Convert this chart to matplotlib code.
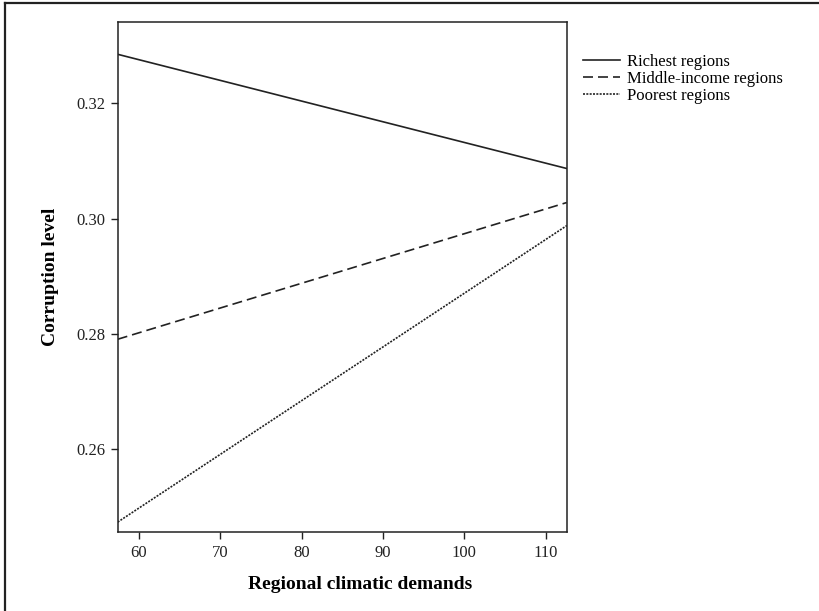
import matplotlib
matplotlib.use("Agg")
import matplotlib.pyplot as plt
from matplotlib.lines import Line2D

plt.rcParams["font.family"] = ["Liberation Serif", "DejaVu Serif"]

# line end points (x at the axis limits)
climate = [57.4, 112.6]
richest = [0.3285, 0.3087]
middle_income = [0.2791, 0.3028]
poorest = [0.2474, 0.2988]

series_labels = ["Richest regions", "Middle-income regions", "Poorest regions"]
x_ticks = [60, 70, 80, 90, 100, 110]
y_ticks = [0.26, 0.28, 0.30, 0.32]

fig = plt.figure(figsize=(8.19, 6.11), dpi=100)
ax = fig.add_axes([0.1437, 0.1285, 0.5483, 0.8355])

ax.plot(climate, richest, color="#222222", linewidth=1.2, linestyle="-", label=series_labels[0])
ax.plot(climate, middle_income, color="#222222", linewidth=1.2, linestyle=(0, (6, 3)), label=series_labels[1])
ax.plot(climate, poorest, color="#222222", linewidth=1.2, linestyle=(0, (1.2, 0.8)), label=series_labels[2])

ax.set_xlim(57.4, 112.6)
ax.set_ylim(0.2456, 0.3341)
ax.set_xticks(x_ticks)
ax.set_yticks(y_ticks)
ax.set_yticklabels([f"{v:.2f}" for v in y_ticks])
ax.tick_params(direction="out", length=5, width=1, labelsize=12, pad=4, colors="#222222")
for s in ax.spines.values():
    s.set_linewidth(1.1)
    s.set_color("#222222")

ax.set_xlabel("Regional climatic demands", fontsize=14, fontweight="bold", labelpad=9)
ax.xaxis.set_label_coords(0.54, -0.085)
ax.set_ylabel("Corruption level", fontsize=14, fontweight="bold", labelpad=12)

ax.legend(loc="upper left", bbox_to_anchor=(0.704, 0.922), bbox_transform=fig.transFigure,
          frameon=False, fontsize=12, handlelength=2.2, handletextpad=0.4,
          labelspacing=0.05, borderaxespad=0)

# outer frame (top and left edges only, as in the source image)
fig.add_artist(Line2D([0.0055, 1.0], [0.9943, 0.9943], transform=fig.transFigure,
                      color="#222222", linewidth=1.6))
fig.add_artist(Line2D([0.0055, 0.0055], [0.0, 0.9943], transform=fig.transFigure,
                      color="#222222", linewidth=1.6))

fig.savefig("out.png", dpi=100)
